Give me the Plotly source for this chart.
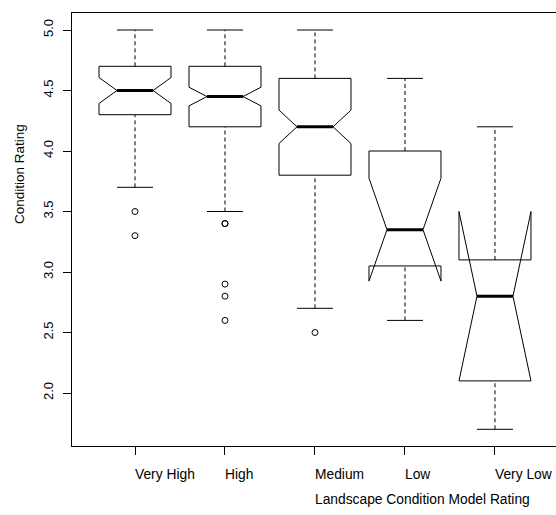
import plotly.graph_objects as go

# ---- data ----
categories = ["Very High", "High", "Medium", "Low", "Very Low"]
q1_vals = [4.3, 4.2, 3.8, 3.05, 2.1]
median_vals = [4.5, 4.45, 4.2, 3.35, 2.8]
q3_vals = [4.7, 4.7, 4.6, 4.0, 3.1]
lower_whisker = [3.7, 3.5, 2.7, 2.6, 1.7]
upper_whisker = [5.0, 5.0, 5.0, 4.6, 4.2]
notch_half = [0.107, 0.077, 0.138, 0.425, 0.70]
outliers_very_high = [3.5, 3.3]
outliers_high = [3.4, 3.4, 2.9, 2.8, 2.6]
outliers_medium = [2.5]
outliers_low = []
outliers_very_low = []
outlier_lists = [outliers_very_high, outliers_high, outliers_medium,
                 outliers_low, outliers_very_low]
y_ticks = [2.0, 2.5, 3.0, 3.5, 4.0, 4.5, 5.0]
x_title = "Landscape Condition Model Rating"
y_title = "Condition Rating"

# ---- styling ----
FONT = "Liberation Sans, Arial, sans-serif"
positions = list(range(1, len(categories) + 1))
BOX_W = 0.8
HALF_CAP = BOX_W / 4

fig = go.Figure()

# Notched boxes (whiskers drawn separately so they can be dashed)
fig.add_trace(go.Box(
    x=positions, q1=q1_vals, median=median_vals, q3=q3_vals,
    lowerfence=lower_whisker, upperfence=upper_whisker,
    notched=True, notchspan=notch_half, notchwidth=0.25,
    width=BOX_W, showwhiskers=False, boxpoints=False,
    line=dict(color="black", width=1), fillcolor="rgba(0,0,0,0)",
    showlegend=False, hoverinfo="skip",
))

# Dashed whiskers
wx, wy = [], []
for p, a, b, c, d in zip(positions, lower_whisker, q1_vals, q3_vals, upper_whisker):
    wx += [p, p, None, p, p, None]
    wy += [a, b, None, c, d, None]
fig.add_trace(go.Scatter(x=wx, y=wy, mode="lines",
                         line=dict(color="black", width=1, dash="4px,3px"),
                         showlegend=False, hoverinfo="skip"))

# Whisker caps
cx, cy = [], []
for p, a, d in zip(positions, lower_whisker, upper_whisker):
    cx += [p - HALF_CAP, p + HALF_CAP, None, p - HALF_CAP, p + HALF_CAP, None]
    cy += [a, a, None, d, d, None]
fig.add_trace(go.Scatter(x=cx, y=cy, mode="lines",
                         line=dict(color="black", width=1),
                         showlegend=False, hoverinfo="skip"))

# Thick medians
mx, my = [], []
for p, m in zip(positions, median_vals):
    mx += [p - HALF_CAP, p + HALF_CAP, None]
    my += [m, m, None]
fig.add_trace(go.Scatter(x=mx, y=my, mode="lines",
                         line=dict(color="black", width=3),
                         showlegend=False, hoverinfo="skip"))

# Outliers
ox, oy = [], []
for p, lst in zip(positions, outlier_lists):
    for v in lst:
        ox.append(p)
        oy.append(v)
fig.add_trace(go.Scatter(x=ox, y=oy, mode="markers",
                         marker=dict(symbol="circle-open", size=6,
                                     color="black", line=dict(width=1)),
                         showlegend=False, hoverinfo="skip"))

# Category labels (left-aligned at the ticks, as in the reference)
annotations = []
for p, name in zip(positions, categories):
    annotations.append(dict(x=p, xref="x", y=-0.0647, yref="paper",
                            text=name, showarrow=False, xanchor="left",
                            yanchor="middle", xshift=-2,
                            font=dict(family=FONT, size=13.8, color="black")))
annotations.append(dict(x=3, xref="x", y=-0.1247, yref="paper",
                        text=x_title, showarrow=False, xanchor="left",
                        yanchor="middle", xshift=-2,
                        font=dict(family=FONT, size=13.8, color="black")))
annotations.append(dict(x=-0.1095, xref="paper", y=0.628, yref="paper",
                        text=y_title, showarrow=False, textangle=-90,
                        xanchor="center", yanchor="middle",
                        font=dict(family=FONT, size=13.5, color="black")))

fig.update_layout(
    width=556, height=515,
    margin=dict(l=72, r=0, t=13, b=69),
    paper_bgcolor="white", plot_bgcolor="white",
    font=dict(family=FONT, size=13, color="black"),
    annotations=annotations,
    xaxis=dict(range=[0.3, 5.678], tickvals=positions, showticklabels=False,
               ticks="outside", ticklen=8, tickcolor="black",
               showline=True, linecolor="black", linewidth=1, mirror=True,
               showgrid=False, zeroline=False, fixedrange=True),
    yaxis=dict(range=[1.562, 5.1405], tickvals=y_ticks,
               ticktext=[f"{v:.1f}" for v in y_ticks], tickangle=-90,
               ticks="outside", ticklen=8, tickcolor="black",
               ticklabelstandoff=5,
               tickfont=dict(family=FONT, size=13, color="black"),
               showline=True, linecolor="black", linewidth=1, mirror=False,
               showgrid=False, zeroline=False, fixedrange=True),
)

# Remove the default page margin so the 556x515 figure fills the window exactly.
fig.write_html(
    "out.html",
    config={"displayModeBar": False},
    post_script="document.body.style.margin='0';document.body.style.overflow='hidden';",
)
